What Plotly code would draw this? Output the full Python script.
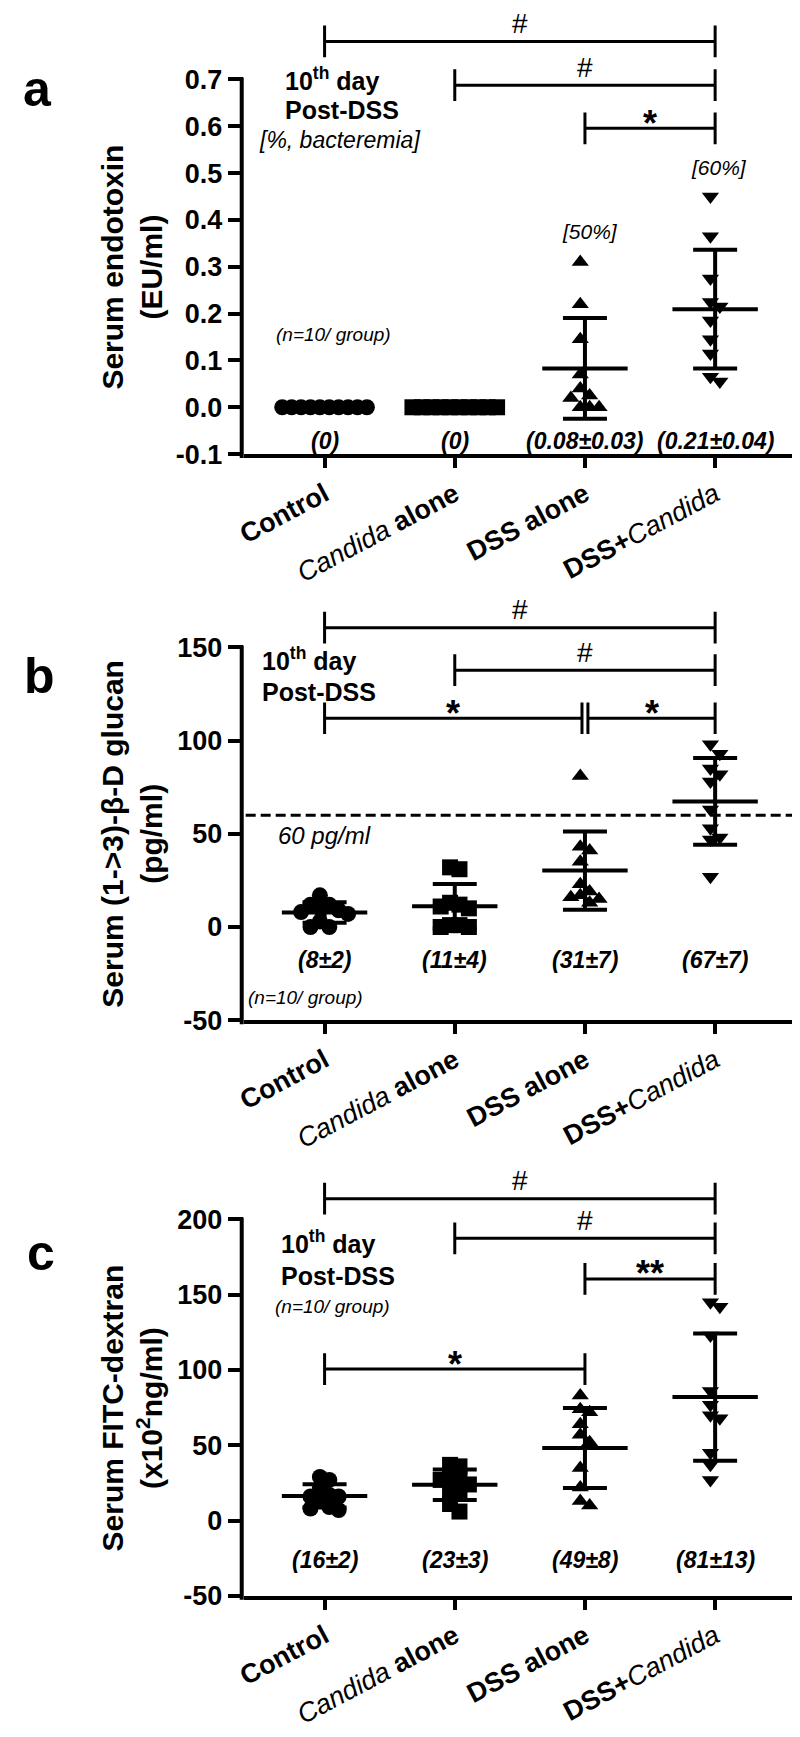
import numpy as np
import plotly.graph_objects as go

# ---------------------------------------------------------------- data
categories = ["Control", "Candida alone", "DSS alone", "DSS+Candida"]
category_labels = ["<b>Control</b>", "<i>Candida</i> <b>alone</b>",
                   "<b>DSS alone</b>", "<b>DSS+</b><i>Candida</i>"]
group_symbols = ["circle", "square", "triangle-up", "triangle-down"]

# (a) serum endotoxin, EU/ml
endotoxin_control = [0.0, 0.0, 0.0, 0.0, 0.0, 0.0, 0.0, 0.0, 0.0, 0.0]
endotoxin_candida = [0.0, 0.0, 0.0, 0.0, 0.0, 0.0, 0.0, 0.0, 0.0, 0.0]
endotoxin_dss = [0.31, 0.22, 0.145, 0.07, 0.04, 0.025, 0.02, 0.0, 0.0, 0.0]
endotoxin_dss_candida = [0.45, 0.365, 0.275, 0.225, 0.215, 0.185, 0.145, 0.115, 0.065, 0.055]
endotoxin_summary = ["(0)", "(0)", "(0.08±0.03)", "(0.21±0.04)"]
endotoxin_ticks = [-0.1, 0.0, 0.1, 0.2, 0.3, 0.4, 0.5, 0.6, 0.7]
endotoxin_comparisons = [(0, 3, "#", 0.781), (1, 3, "#", 0.6875), (2, 3, "*", 0.5955)]

# (b) serum (1->3)-beta-D glucan, pg/ml
glucan_control = [17, 12, 12, 10, 9, 8, 7, 3, 0, 0]
glucan_candida = [32, 31, 13, 12, 11, 10, 1, 1, 0, 0]
glucan_dss = [81, 43, 41, 35, 23, 19, 17, 16, 15, 13]
glucan_dss_candida = [98, 93, 85, 82, 78, 63, 53, 48, 47, 27]
glucan_summary = ["(8±2)", "(11±4)", "(31±7)", "(67±7)"]
glucan_ticks = [-50, 0, 50, 100, 150]
glucan_threshold = 60
glucan_comparisons = [(0, 3, "#", 160.6), (1, 3, "#", 137.8), (0, 2, "*", 112.0), (2, 3, "*", 112.0)]

# (c) serum FITC-dextran, x10^2 ng/ml
fitc_control = [29, 27, 22, 17, 16, 16, 13, 9, 8, 7]
fitc_candida = [37, 36, 30, 29, 27, 24, 20, 18, 11, 6]
fitc_dss = [83, 74, 72, 64, 57, 52, 35, 22, 13, 10]
fitc_dss_candida = [145, 142, 123, 86, 77, 70, 68, 45, 37, 27]
fitc_summary = ["(16±2)", "(23±3)", "(49±8)", "(81±13)"]
fitc_ticks = [-50, 0, 50, 100, 150, 200]
fitc_comparisons = [(0, 3, "#", 213.8), (1, 3, "#", 187.5), (2, 3, "**", 160.5), (0, 2, "*", 100.6)]

# ---------------------------------------------------------------- layout geometry (pixels)
W, H = 800, 1737
FONT = "Liberation Sans, Arial, Helvetica, sans-serif"
X_LEFT, X_RIGHT = 230, 795
CAT0, CAT_STEP = 311.7, 131.5
X_RANGE = [(X_LEFT - CAT0) / CAT_STEP, (X_RIGHT - CAT0) / CAT_STEP]

panels = [
    dict(letter="a", groups=[endotoxin_control, endotoxin_candida, endotoxin_dss, endotoxin_dss_candida],
         ticks=endotoxin_ticks, fmt="{:.1f}", bottom_px=450, top_px=72, dom_top_px=0,
         summary=endotoxin_summary, summary_px=437, comps=endotoxin_comparisons,
         title="<b>Serum endotoxin<br>(EU/ml)</b>", letter_px=(22, 82)),
    dict(letter="b", groups=[glucan_control, glucan_candida, glucan_dss, glucan_dss_candida],
         ticks=glucan_ticks, fmt="{:d}", bottom_px=1021, top_px=645, dom_top_px=585,
         summary=glucan_summary, summary_px=960, comps=glucan_comparisons,
         title="<b>Serum (1->3)-β-D glucan<br>(pg/ml)</b>", letter_px=(24, 674)),
    dict(letter="c", groups=[fitc_control, fitc_candida, fitc_dss, fitc_dss_candida],
         ticks=fitc_ticks, fmt="{:d}", bottom_px=1601.7, top_px=1222, dom_top_px=1160,
         summary=fitc_summary, summary_px=1566, comps=fitc_comparisons,
         title="<b>Serum FITC-dextran<br>(x10<sup>2</sup>ng/ml)</b>", letter_px=(25, 1256)),
]


def swarm_offsets(values, px_per_unit, min_dist=9.5, step=9.5):
    vals = np.asarray(values, float)
    order = np.argsort(-vals, kind="stable")
    placed = []
    offs = np.zeros(len(vals))
    for idx in order:
        ypx = vals[idx] * px_per_unit
        k = 0
        while True:
            cand = 0.0 if k == 0 else ((k + 1) // 2) * step * (1 if k % 2 else -1)
            if all((cand - px) ** 2 + (ypx - py) ** 2 >= min_dist ** 2 - 1e-9 for px, py in placed):
                break
            k += 1
        offs[idx] = cand
        placed.append((cand, ypx))
    offs = offs - (offs.max() + offs.min()) / 2.0
    return offs / CAT_STEP


def px_ann(text, xpx, ypx, size, xanchor="center", yanchor="middle", angle=0):
    return dict(text=text, x=xpx / W, y=1 - ypx / H, xref="paper", yref="paper",
                xanchor=xanchor, yanchor=yanchor, showarrow=False, textangle=angle,
                font=dict(family=FONT, size=size, color="black"))


fig = go.Figure()
shapes, annotations = [], []
layout_axes = {}

for i, p in enumerate(panels):
    n = "" if i == 0 else str(i + 1)
    xa, ya = "x" + n, "y" + n
    ticks = p["ticks"]
    ppu = (p["bottom_px"] - p["top_px"]) / (ticks[-1] - ticks[0])
    y_top = ticks[-1] + (p["top_px"] - p["dom_top_px"]) / ppu

    # data points
    for g, vals in enumerate(p["groups"]):
        offs = swarm_offsets(vals, ppu)
        size = 15 if "triangle" in group_symbols[g] else 16
        fig.add_trace(go.Scatter(
            x=[g + o for o in offs], y=vals, mode="markers", xaxis=xa, yaxis=ya,
            marker=dict(symbol=group_symbols[g], size=size, color="black", line=dict(width=0)),
            showlegend=False, hoverinfo="skip"))
    # mean +/- SD
    for g, vals in enumerate(p["groups"]):
        m = float(np.mean(vals))
        sd = float(np.std(vals, ddof=1))
        fig.add_trace(go.Scatter(
            x=[g], y=[m], mode="markers", xaxis=xa, yaxis=ya,
            marker=dict(symbol="line-ew", size=61, color="black", line=dict(width=4, color="black")),
            error_y=dict(type="data", array=[sd], visible=True, thickness=4, width=22, color="black"),
            showlegend=False, hoverinfo="skip"))

    layout_axes["xaxis" + n] = dict(
        domain=[X_LEFT / W, X_RIGHT / W], range=X_RANGE, anchor=ya,
        tickvals=[0, 1, 2, 3], ticktext=category_labels, tickangle=-28,
        tickfont=dict(family=FONT, size=27, color="black"),
        ticks="outside", ticklen=10, tickwidth=4, tickcolor="black",
        showline=True, linewidth=4, linecolor="black",
        showgrid=False, zeroline=False)
    layout_axes["yaxis" + n] = dict(
        domain=[1 - p["bottom_px"] / H, 1 - p["dom_top_px"] / H],
        range=[ticks[0], y_top], anchor=xa,
        tickvals=ticks, ticktext=[p["fmt"].format(t) for t in ticks],
        tickfont=dict(family=FONT, size=27, color="black", weight="bold"),
        ticks="outside", ticklen=15, tickwidth=4, tickcolor="black",
        showline=False, showgrid=False, zeroline=False)

    # y axis line only between first and last tick
    shapes.append(dict(type="line", xref="paper", yref="paper",
                       x0=(X_LEFT - 2) / W, x1=(X_LEFT - 2) / W,
                       y0=1 - (p["bottom_px"] + 4) / H, y1=1 - (p["top_px"] - 2) / H,
                       line=dict(color="black", width=4)))

    # significance brackets
    h = 16 / ppu
    gap = 3 / CAT_STEP
    for (g0, g1, lab, lev) in p["comps"]:
        x0, x1 = float(g0), float(g1)
        for (o0, o1, _, olev) in p["comps"]:
            if olev == lev and o0 == g1 and (o0, o1) != (g0, g1):
                x1 -= gap
            if olev == lev and o1 == g0 and (o0, o1) != (g0, g1):
                x0 += gap
        for (a0, a1, b0, b1) in [(x0, x1, lev, lev), (x0, x0, lev - h, lev + h), (x1, x1, lev - h, lev + h)]:
            shapes.append(dict(type="line", xref=xa, yref=ya, x0=a0, x1=a1, y0=b0, y1=b1,
                               line=dict(color="black", width=3)))
        is_hash = lab == "#"
        annotations.append(dict(
            text=lab if is_hash else "<b>" + lab + "</b>", x=(x0 + x1) / 2, y=lev, xref=xa, yref=ya,
            showarrow=False, yanchor="middle", yshift=18 if is_hash else 5,
            font=dict(family=FONT, size=28 if is_hash else 36, color="black")))

    # mean +/- SEM summaries
    for g, s in enumerate(p["summary"]):
        yv = ticks[-1] - (p["summary_px"] - p["top_px"]) / ppu
        annotations.append(dict(text="<b><i>" + s + "</i></b>", x=g, y=yv, xref=xa, yref=ya,
                                showarrow=False, yanchor="middle",
                                font=dict(family=FONT, size=23, color="black")))

    # axis title and panel letter
    annotations.append(px_ann(p["title"], 117, (p["bottom_px"] + p["top_px"]) / 2, 30, angle=-90))
    annotations.append(px_ann("<b>" + p["letter"] + "</b>", p["letter_px"][0], p["letter_px"][1], 50))

# threshold line in (b)
shapes.append(dict(type="line", xref="x2", yref="y2", x0=(232 - CAT0) / CAT_STEP, x1=(788 - CAT0) / CAT_STEP,
                   y0=glucan_threshold, y1=glucan_threshold,
                   line=dict(color="black", width=3, dash="10px,5px")))

# free text labels
annotations += [
    px_ann("<b>10<sup>th</sup> day</b>", 270, 72, 25, xanchor="left"),
    px_ann("<b>Post-DSS</b>", 270, 103, 25, xanchor="left"),
    px_ann("<i>[%, bacteremia]</i>", 243, 133, 23, xanchor="left"),
    px_ann("<i>(n=10/ group)</i>", 321, 329, 19),
    px_ann("<i>[50%]</i>", 580, 225, 21),
    px_ann("<i>[60%]</i>", 710, 161, 21),
    px_ann("<b>10<sup>th</sup> day</b>", 246, 657, 25, xanchor="left"),
    px_ann("<b>Post-DSS</b>", 246, 690, 25, xanchor="left"),
    px_ann("<i>60 pg/ml</i>", 312, 835, 24),
    px_ann("<i>(n=10/ group)</i>", 292, 998, 19),
    px_ann("<b>10<sup>th</sup> day</b>", 266, 1245, 25, xanchor="left"),
    px_ann("<b>Post-DSS</b>", 266, 1279, 25, xanchor="left"),
    px_ann("<i>(n=10/ group)</i>", 320, 1310, 19),
]

fig.update_layout(
    width=W, height=H, margin=dict(l=0, r=0, t=0, b=0),
    paper_bgcolor="white", plot_bgcolor="white",
    font=dict(family=FONT, color="black"),
    shapes=shapes, annotations=annotations, showlegend=False,
    **layout_axes)

fig.write_html("out.html")
